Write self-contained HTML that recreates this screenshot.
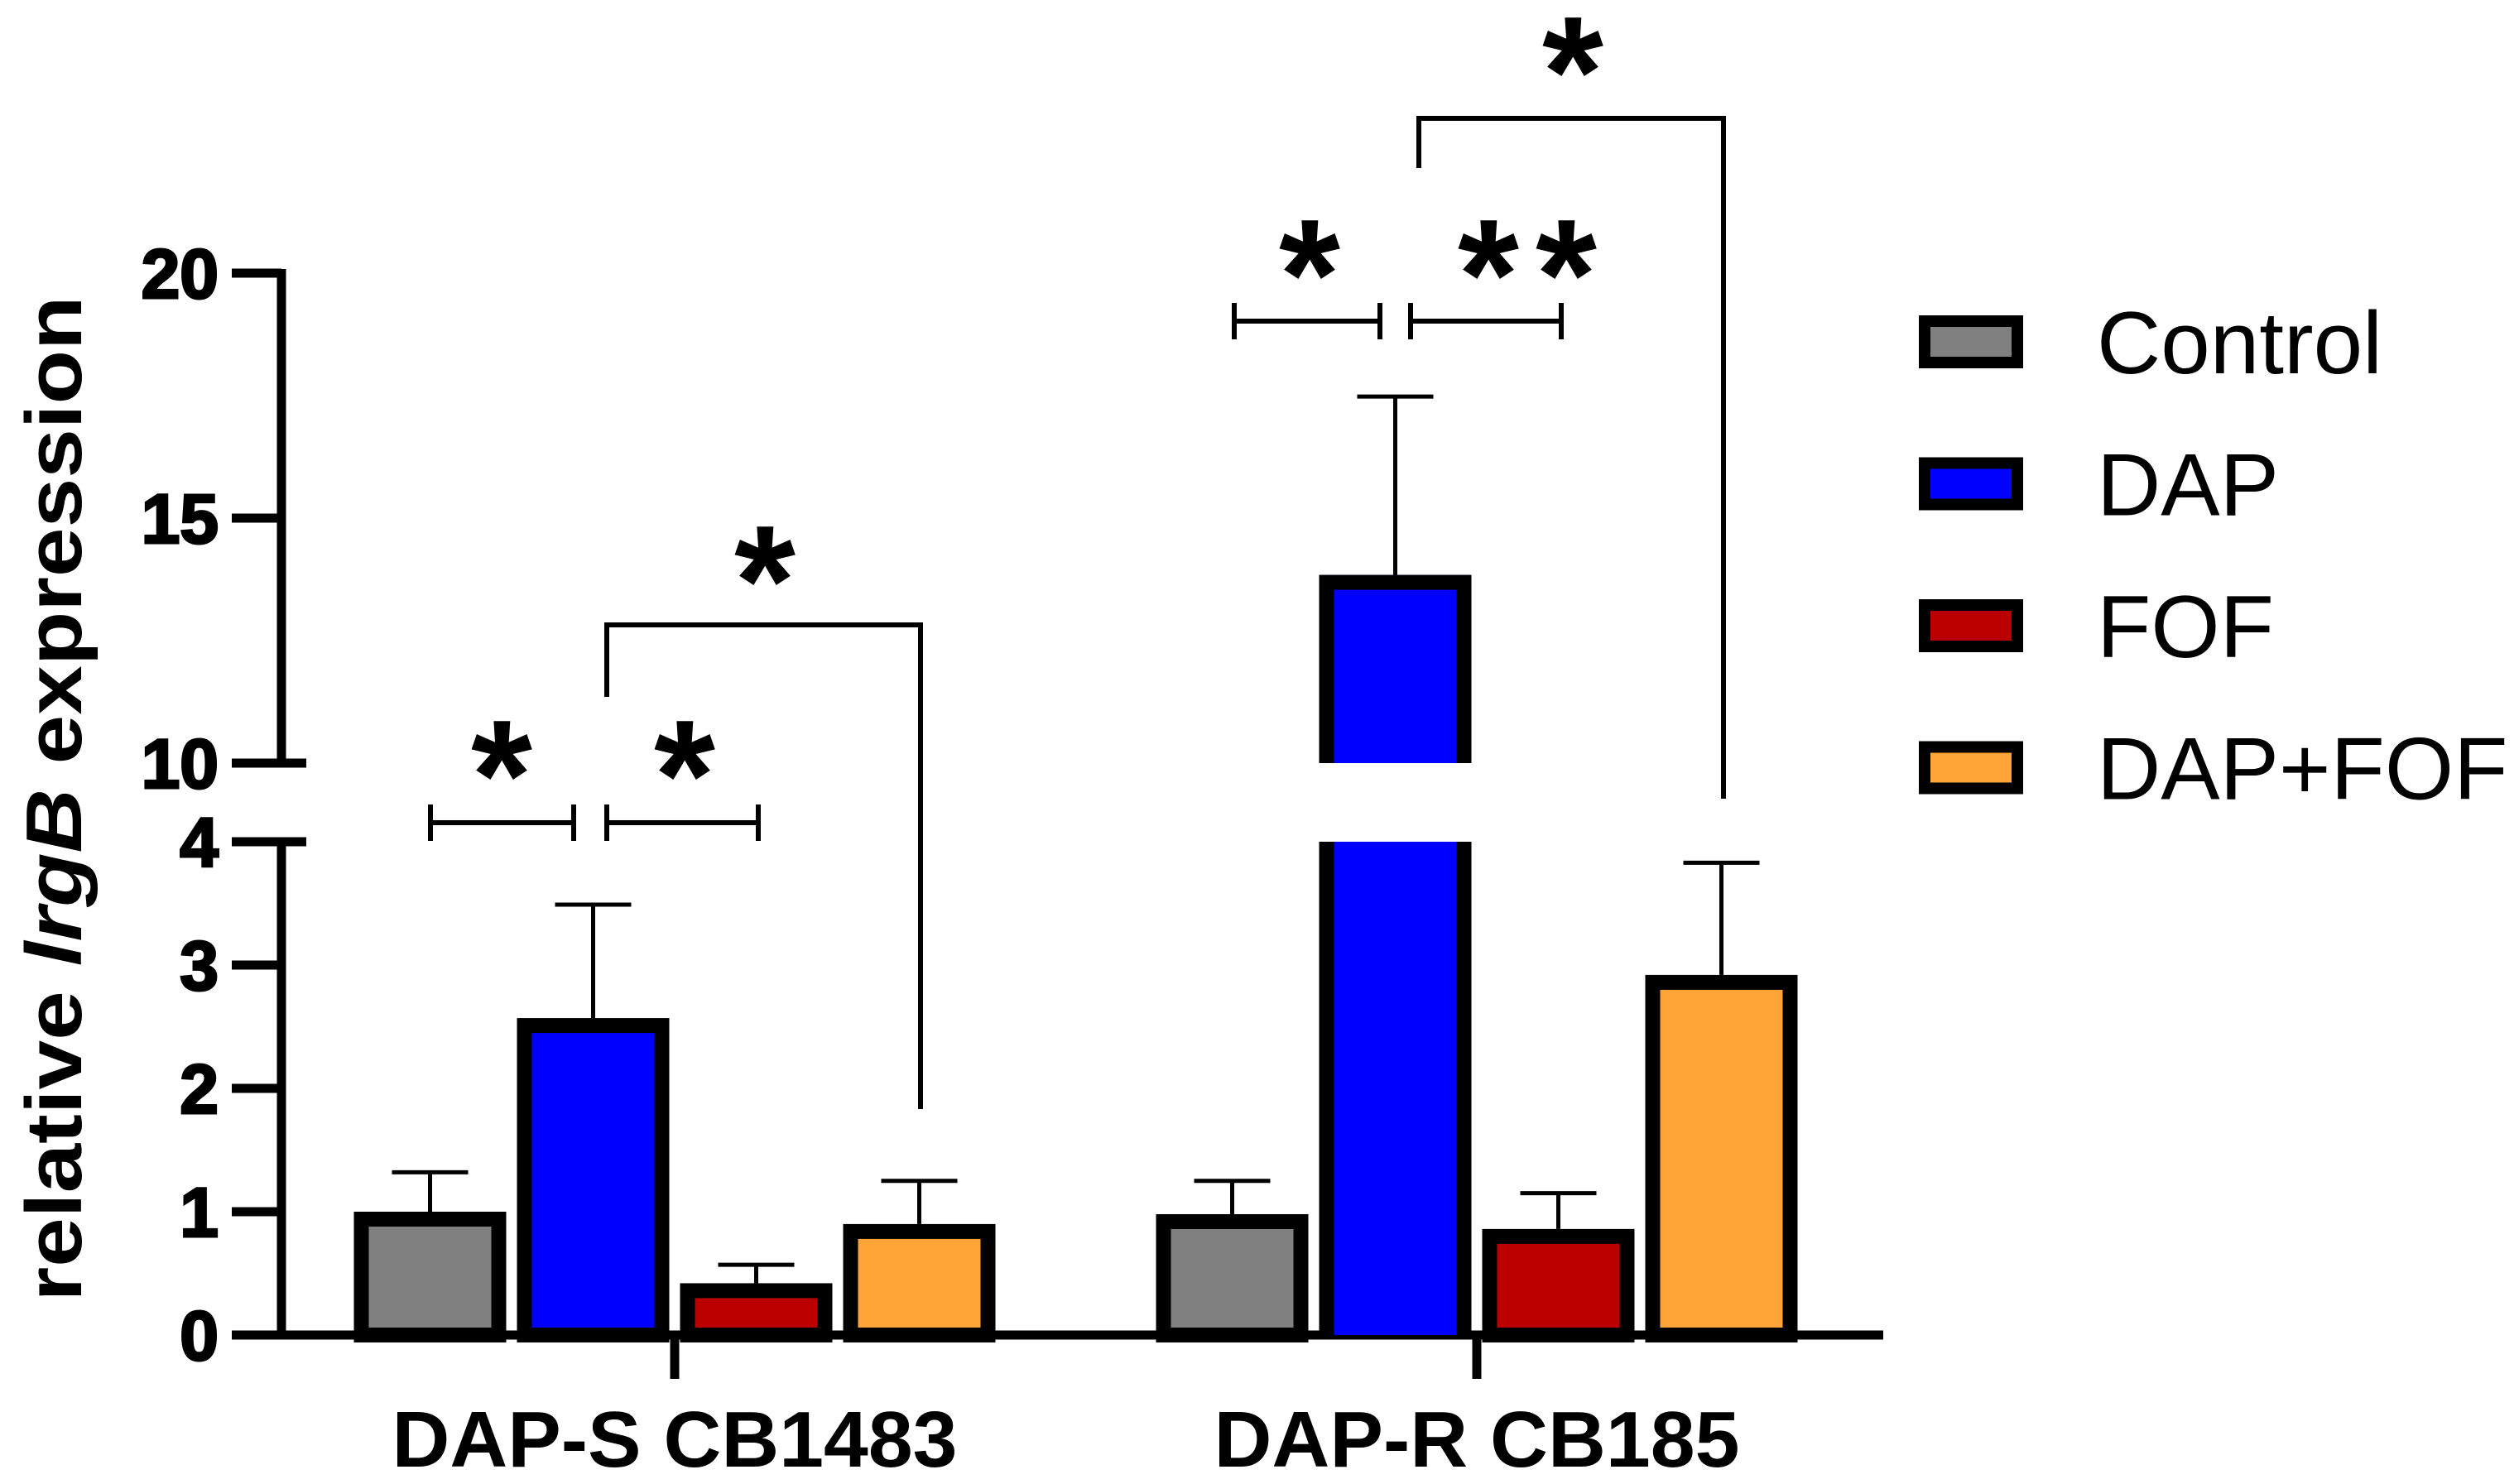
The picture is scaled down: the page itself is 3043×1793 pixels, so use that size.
<!DOCTYPE html>
<html><head><meta charset="utf-8"><style>
html,body{margin:0;padding:0;background:#fff}
svg{display:block}
text{font-family:"Liberation Sans",Arial,sans-serif}
</style></head><body>
<svg id="chart" width="3043" height="1793" viewBox="0 0 3043 1793" xmlns="http://www.w3.org/2000/svg">
<g id="axes"></g>
<g id="bars"></g>
<g id="sig"></g>
<g id="legend"></g>
<text transform="translate(98,965) rotate(-90)" text-anchor="middle" font-size="96" font-weight="bold" textLength="1215" lengthAdjust="spacingAndGlyphs">relative <tspan font-style="italic">lrgB</tspan> expression</text>
</svg>
<script>
const groups = ["DAP-S CB1483", "DAP-R CB185"];
const series = ["Control", "DAP", "FOF", "DAP+FOF"];
const colors = ["#808080", "#0000ff", "#bb0000", "#ffa537"];
const means = [[1.0, 2.57, 0.42, 0.9], [0.98, 13.84, 0.86, 2.92]];
const errs = [[1.32, 3.49, 0.57, 1.25], [1.25, 17.48, 1.15, 3.83]];
const lowerTicks = [0, 1, 2, 3, 4];
const upperTicks = [10, 15, 20];

const NS = "http://www.w3.org/2000/svg";
function el(tag, attrs, parent, txt) {
  const e = document.createElementNS(NS, tag);
  for (const k in attrs) e.setAttribute(k, attrs[k]);
  if (txt !== undefined) e.textContent = txt;
  parent.appendChild(e);
  return e;
}
const Y0 = 1613, LOWPX = 149, UP10 = 922, UPPX = 59.2;
function y(v) { return v <= 4 ? Y0 - v * LOWPX : UP10 - (v - 10) * UPPX; }
const groupCenter = [815, 1784];
const pitch = 197, barW = 184, sw = 18;
function xCenter(g, s) { return groupCenter[g] + (s - 1.5) * pitch; }

const axes = document.getElementById('axes');
const AX = 340;
let l;
l = el('line', {x1: AX, y1: Y0 + 5, x2: AX, y2: y(4) - 5, stroke: '#000', 'stroke-width': 11}, axes);


l = el('line', {x1: AX, y1: y(10) + 5, x2: AX, y2: y(20) - 5, stroke: '#000', 'stroke-width': 11}, axes);


l = el('line', {x1: 280, y1: Y0, x2: 2275, y2: Y0, stroke: '#000', 'stroke-width': 11}, axes);


lowerTicks.concat(upperTicks).forEach(v => {
  const brk = (v === 4 || v === 10);
  const t = el('line', {x1: 280, y1: y(v), x2: brk ? 370 : AX, y2: y(v), stroke: '#000', 'stroke-width': 11}, axes);
  
  
  const tl = el('text', {x: 264, y: y(v) + 30, 'text-anchor': 'end', 'font-size': 84, 'font-weight': 'bold', stroke: '#000', 'stroke-width': 3}, axes, String(v));
  
  
});
groups.forEach((g, gi) => {
  const t = el('line', {x1: groupCenter[gi], y1: Y0, x2: groupCenter[gi], y2: 1666, stroke: '#000', 'stroke-width': 11}, axes);
  
  
  const tl = el('text', {x: groupCenter[gi], y: 1772, 'text-anchor': 'middle', 'font-size': 96, 'font-weight': 'bold', textLength: gi === 0 ? 683 : 635, lengthAdjust: 'spacingAndGlyphs'}, axes, g);
  
  
});

const bars = document.getElementById('bars');
groups.forEach((g, gi) => {
  series.forEach((s, si) => {
    const cx = xCenter(gi, si), v = means[gi][si], e = errs[gi][si];
    const x0 = cx - barW / 2;
    const eb = el('line', {x1: cx, y1: y(v), x2: cx, y2: y(e), stroke: '#000', 'stroke-width': 5}, bars);
    
    
    const ec = el('line', {x1: cx - 46, y1: y(e), x2: cx + 46, y2: y(e), stroke: '#000', 'stroke-width': 5}, bars);
    
    
    if (v <= 4) {
      const r = el('rect', {x: x0 + sw / 2, y: y(v) + sw / 2, width: barW - sw, height: Y0 - y(v) - sw / 2, fill: colors[si], stroke: '#000', 'stroke-width': sw}, bars);
      
      
    } else {
      const lo = el('rect', {x: x0, y: y(4), width: barW, height: Y0 - y(4), fill: colors[si]}, bars);
      
      
      const up = el('rect', {x: x0, y: y(v), width: barW, height: y(10) - y(v), fill: colors[si]}, bars);
      
      
      const p1 = el('path', {d: `M${x0 + sw / 2},${y(4)} V${Y0} M${x0 + barW - sw / 2},${y(4)} V${Y0}`, stroke: '#000', 'stroke-width': sw, fill: 'none'}, bars);
      
      
      const p2 = el('path', {d: `M${x0 + sw / 2},${y(10)} V${y(v) + sw / 2} H${x0 + barW - sw / 2} V${y(10)}`, stroke: '#000', 'stroke-width': sw, fill: 'none'}, bars);
      
      
    }
  });
});

const sig = document.getElementById('sig');
function star(x, yc, txt) {
  const t = el('text', {x: x, y: yc + 112, 'text-anchor': 'middle', 'font-size': 190, 'font-weight': 'bold'}, sig, txt);
  
  
}
function hbar(x1, x2, yy) {
  const p = el('path', {d: `M${x1},${yy - 22} V${yy + 22} M${x1},${yy} H${x2} M${x2},${yy - 22} V${yy + 22}`, stroke: '#000', 'stroke-width': 6, fill: 'none'}, sig);
  
  
}
function bigb(x1, x2, yy, y1, y2) {
  const p = el('path', {d: `M${x1},${y1} V${yy} H${x2} V${y2}`, stroke: '#000', 'stroke-width': 6, fill: 'none'}, sig);
  
  
}
hbar(520, 693, 994); hbar(733, 916, 994);
star(606, 890, "*"); star(827, 890, "*");
bigb(733, 1112, 755, 842, 1340); star(924, 655, "*");
hbar(1491, 1667, 388); hbar(1704, 1886, 388);
star(1582, 285, "*"); star(1798, 285, "*"); star(1892, 285, "*");
bigb(1714, 2082, 143, 203, 965); star(1900, 40, "*");

const legend = document.getElementById('legend');
series.forEach((s, i) => {
  const cy = 413 + i * 171.5;
  const r = el('rect', {x: 2325, y: cy - 25, width: 112, height: 50, fill: colors[i], stroke: '#000', 'stroke-width': 14}, legend);
  
  
  const t = el('text', {x: 2533, y: cy + 38, 'font-size': 107}, legend, s);
  
  
});
</script>
</body></html>
